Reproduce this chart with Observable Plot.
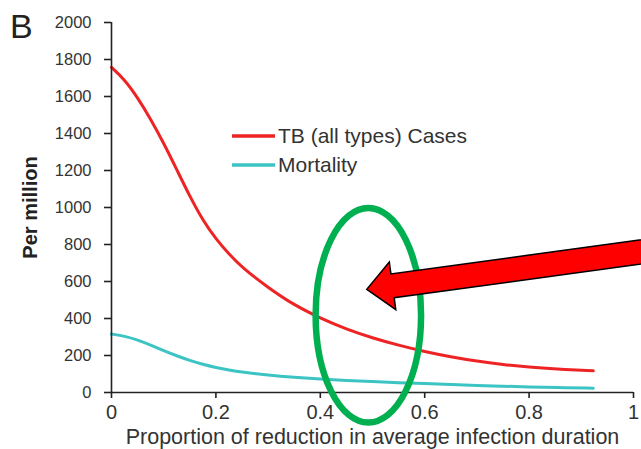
<!DOCTYPE html>
<html><head><meta charset="utf-8">
<script src="https://cdn.jsdelivr.net/npm/d3@7"></script>
<script src="https://cdn.jsdelivr.net/npm/@observablehq/plot@0.6"></script>
<style>
body{margin:0;background:#fff;}
#wrap{position:relative;width:641px;height:449px;}
</style></head><body><div id="wrap"></div>
<script>
// ---- data ----
const reduction = [0, 0.025, 0.05, 0.075, 0.1, 0.125, 0.15, 0.175, 0.2, 0.225, 0.25, 0.3, 0.35, 0.4, 0.45, 0.5, 0.55, 0.6, 0.65, 0.7, 0.75, 0.8, 0.85, 0.923];
const tbCases   = [1757, 1692, 1594, 1478, 1348, 1205, 1060, 930, 830, 748, 676, 567, 472, 402, 342, 295, 255, 221, 193, 169, 151, 137, 127, 117];
const mortality = [316, 305, 284, 256, 226, 198, 173, 152, 135, 121, 110, 94, 82, 72, 65, 59, 53, 48, 43, 38, 34, 30, 27, 23];
const xTicks = [0, 0.2, 0.4, 0.6, 0.8, 1];
const yTicks = [0, 200, 400, 600, 800, 1000, 1200, 1400, 1600, 1800, 2000];
const seriesNames = ["TB (all types) Cases", "Mortality"];
const seriesColors = ["#ee2424", "#3cc4c4"];
const panelLabel = "B";
const xLabel = "Proportion of reduction in average infection duration";
const yLabel = "Per million";
// annotation anchors (data units)
const ellipseCenter = {x: 0.493, y: 415};
const ellipseRadius = {x: 0.101, y: 580};
const arrowTip = {x: 0.490, y: 555};
const arrowTail = {x: 1.10, y: 790};

const rows = reduction.map((r, i) => ({r, tb: tbCases[i], m: mortality[i]}));
const font = "Liberation Sans, Arial, Helvetica, sans-serif";

const plot = Plot.plot({
  width: 641, height: 449,
  marginLeft: 111, marginRight: 8, marginTop: 22, marginBottom: 57,
  style: {fontFamily: font, fontSize: "20px", color: "#333", background: "white", overflow: "hidden"},
  x: {domain: [0, 1]},
  y: {domain: [0, 2000]},
  marks: [
    Plot.line(rows, {x: "r", y: "tb", stroke: seriesColors[0], strokeWidth: 3, curve: "basis"}),
    Plot.line(rows, {x: "r", y: "m", stroke: seriesColors[1], strokeWidth: 3, curve: "basis"}),
    Plot.ruleX([0], {stroke: "#222", strokeWidth: 1.6}),
    Plot.ruleY([0], {stroke: "#222", strokeWidth: 1.6}),
    Plot.axisY({ticks: yTicks, tickSize: 7, tickFormat: () => "", label: null, stroke: "#222", strokeWidth: 1.6}),
    Plot.text(yTicks, {y: d => d, text: d => String(d), frameAnchor: "left", dx: -20, textAnchor: "end", lineAnchor: "middle", fill: "#333", fontSize: 16.5, ariaLabel: "ytick-text"}),
    Plot.axisX({ticks: xTicks, tickSize: 6, tickPadding: 6, tickFormat: d => String(d), label: null, stroke: "#222", strokeWidth: 1.6, fill: "#333", fontSize: 20}),
    Plot.text([yLabel], {text: d => d, frameAnchor: "left", rotate: -90, dx: -81, textAnchor: "middle", lineAnchor: "middle", fontWeight: "bold", fill: "#222", fontSize: 20}),
    Plot.text([xLabel], {text: d => d, frameAnchor: "bottom", dy: 45, textAnchor: "middle", lineAnchor: "middle", fill: "#333", fontSize: 21.5})
  ]
});

document.getElementById("wrap").appendChild(plot);

const sx = plot.scale("x"), sy = plot.scale("y");
const svg = d3.select(plot);

// widen y tick labels horizontally like the reference (scale about the right-aligned anchor)
svg.selectAll("g[aria-label='ytick-text'] text").each(function () {
  const t = this.getAttribute("transform") || "";
  this.setAttribute("transform", t + " scale(1.22,1)");
});

// green ellipse
const cx = sx.apply(ellipseCenter.x), cy = sy.apply(ellipseCenter.y);
const rx = sx.apply(ellipseCenter.x + ellipseRadius.x) - cx;
const ry = cy - sy.apply(ellipseCenter.y + ellipseRadius.y);
svg.append("ellipse").attr("cx", cx).attr("cy", cy).attr("rx", rx).attr("ry", ry)
  .attr("fill", "none").attr("stroke", "#00b050").attr("stroke-width", 6.5);

// red block arrow
const tx = sx.apply(arrowTip.x), ty = sy.apply(arrowTip.y);
const ex = sx.apply(arrowTail.x), ey = sy.apply(arrowTail.y);
const len = Math.hypot(ex - tx, ey - ty);
const ux = (ex - tx) / len, uy = (ey - ty) / len;
const nx = -uy, ny = ux;
const L = 26, H = 24, S = 12;
const pts = [
  [tx, ty],
  [tx + ux * L + nx * H, ty + uy * L + ny * H],
  [tx + ux * L + nx * S, ty + uy * L + ny * S],
  [ex + nx * S, ey + ny * S],
  [ex - nx * S, ey - ny * S],
  [tx + ux * L - nx * S, ty + uy * L - ny * S],
  [tx + ux * L - nx * H, ty + uy * L - ny * H]
];
svg.append("polygon").attr("points", pts.map(p => p.join(",")).join(" "))
  .attr("fill", "#ff0000").attr("stroke", "#000").attr("stroke-width", 1.5).attr("stroke-linejoin", "miter");

// panel label
svg.append("text").attr("x", 10).attr("y", 37.5).attr("text-anchor", "start")
  .attr("font-family", font).attr("font-size", 34).attr("fill", "#222").text(panelLabel);

// legend
const lg = svg.append("g").attr("text-anchor", "start");
seriesNames.forEach((name, i) => {
  const y = 136 + i * 29;
  lg.append("line").attr("x1", 232).attr("x2", 275).attr("y1", y).attr("y2", y).attr("stroke", seriesColors[i]).attr("stroke-width", 3.5);
  lg.append("text").attr("x", 278).attr("y", y).attr("dy", "0.35em").attr("text-anchor", "start")
    .attr("font-family", font).attr("font-size", 21).attr("fill", "#333").text(name);
});
</script></body></html>
